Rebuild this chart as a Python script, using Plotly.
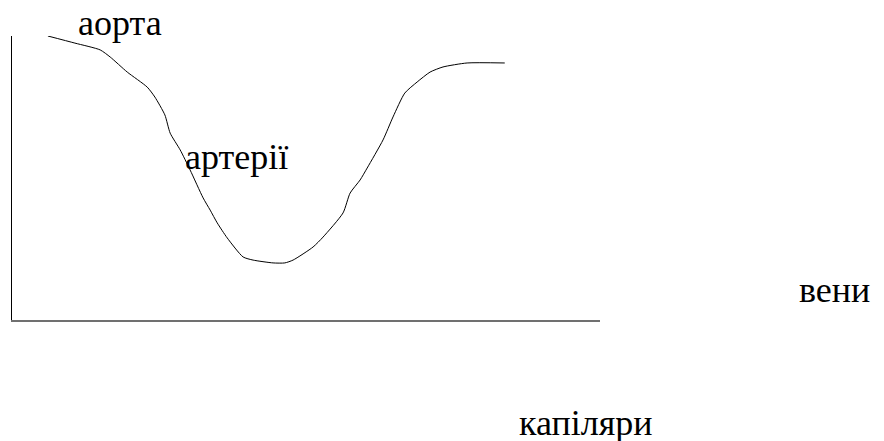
import plotly.graph_objects as go

# relative position along the vascular bed vs. pressure (arbitrary units)
position = [6.1, 10.7, 15.0, 16.7, 19.6, 23.0, 24.3, 26.0, 26.9, 28.6, 30.3,
            32.5, 33.7, 34.9, 36.6, 39.3, 41.0, 44.4, 46.4, 47.8, 51.2, 52.9,
            56.3, 57.5, 59.2, 60.4, 63.1, 64.8, 66.8, 68.9, 71.1, 73.3, 77.4,
            83.8]
pressure = [100.0, 97.5, 95.1, 92.6, 87.3, 82.0, 78.5, 72.2, 65.8, 59.9, 52.8,
            43.0, 38.7, 34.2, 28.9, 22.2, 21.1, 20.1, 20.1, 21.1, 25.7, 29.2,
            37.7, 44.7, 49.3, 53.5, 63.4, 71.5, 79.9, 83.8, 87.3, 89.1, 90.5,
            90.5]

labels = ["аорта", "артерії", "вени", "капіляри"]

# where each label sits (fraction of the plot area)
label_pos = [(0.109, 1.046), (0.291, 0.574), (1.335, 0.106), (0.859, -0.363)]

fig = go.Figure()
for text, (lx, ly) in zip(labels, label_pos):
    fig.add_annotation(
        x=lx, y=ly, xref="paper", yref="paper",
        text=text, showarrow=False,
        xanchor="left", yanchor="middle",
        font=dict(family="serif", size=36, color="black"),
    )

fig.add_trace(
    go.Scatter(
        x=position,
        y=pressure,
        mode="lines",
        line=dict(color="black", width=1, shape="spline", smoothing=0.6),
        hoverinfo="skip",
        showlegend=False,
    )
)

fig.update_xaxes(
    range=[0, 100], showline=True, linecolor="#707070", linewidth=2,
    showgrid=False, zeroline=False, showticklabels=False,
)
fig.update_yaxes(
    range=[0, 100], showline=True, linecolor="black", linewidth=1,
    showgrid=False, zeroline=False, showticklabels=False,
)
# the page body adds an 8px margin, so the margins are shifted by that
fig.update_layout(
    width=884, height=441,
    margin=dict(l=4, r=292, t=28, b=129, pad=0),
    plot_bgcolor="white", paper_bgcolor="white",
    font=dict(family="serif"),
)

fig.write_html("out.html")
